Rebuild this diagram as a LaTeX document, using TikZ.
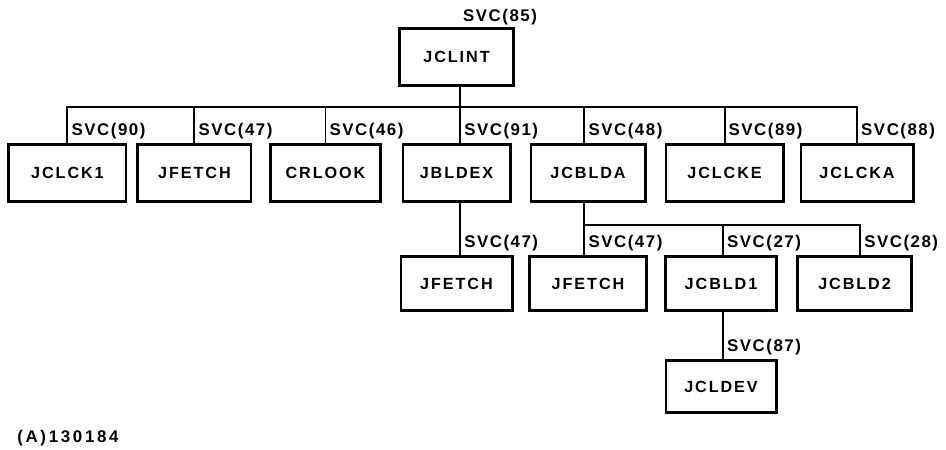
\documentclass[tikz,border=0pt]{standalone}
\usepackage{fontspec}
\setmainfont{Liberation Sans}[LetterSpace=9.0]
\usetikzlibrary{positioning}

\begin{document}
\begin{tikzpicture}
  \tikzstyle{block} = [rectangle, text centered, draw=black, line width=2pt, minimum height=1.43cm, font=\fontsize{11.5}{13}\selectfont\bfseries\addfontfeature{LetterSpace=12.0}]
  \tikzstyle{svc} = [anchor=base west, inner sep=0pt, xshift=0.08cm, yshift=0.2cm, font=\fontsize{12}{14}\selectfont\bfseries]
  \tikzstyle{link} = [line width=1.4pt]
  \useasboundingbox (0,0) rectangle (23.65,-11.225);
  % top
  \node (lint) [block, minimum width=2.855cm] at (11.4125,-1.425) {JCLINT};
  \node (svclint) [svc, xshift=0.08cm, yshift=-0.075cm] at (lint.north) {SVC(85)};
  % first row
  \node (bldex) [block, minimum width=2.68cm, below=1.4cm of lint] {JBLDEX};
  \node (crlook) [block, minimum width=2.73cm, left=0.5cm of bldex] {CRLOOK};
  \node (fetcha) [block, minimum width=2.83cm, left=0.425cm of crlook] {JFETCH};
  \node (lck1) [block, minimum width=2.93cm, left=0.225cm of fetcha] {JCLCK1};
  \node (cblda) [block, minimum width=2.855cm, right=0.45cm of bldex] {JCBLDA};
  \node (lcke) [block, minimum width=2.93cm, right=0.45cm of cblda] {JCLCKE};
  \node (lcka) [block, minimum width=2.805cm, right=0.375cm of lcke] {JCLCKA};
  % second row
  \node (fetchb) [block, minimum width=2.78cm, minimum height=1.355cm, below=1.3cm of bldex] {JFETCH};
  \node (fetchc) [block, minimum width=2.93cm, minimum height=1.355cm, below=1.3cm of cblda] {JFETCH};
  \node (cbld1) [block, minimum width=2.78cm, minimum height=1.355cm, right=0.4cm of fetchc] {JCBLD1};
  \node (cbld2) [block, minimum width=2.855cm, minimum height=1.355cm, right=0.45cm of cbld1] {JCBLD2};
  \node (cldev) [block, minimum width=2.755cm, minimum height=1.305cm, below=1.175cm of cbld1] {JCLDEV};
  % connectors
  \coordinate (bus) at ([xshift=0.09cm, yshift=-0.5cm]lint.south);
  \draw[link] (lint.south -| bus) -- (bus);
  \draw[link] (bus) -| (lck1.north) node[svc] {SVC(90)};
  \draw[link] (bus) -| (fetcha.north) node[svc] {SVC(47)};
  \draw[link] (bus) -| (crlook.north) node[svc] {SVC(46)};
  \draw[link] (bus) -- (bus |- bldex.north) node[svc] {SVC(91)};
  \draw[link] (bus) -| ([xshift=-0.09cm]cblda.north) node[svc] {SVC(48)};
  \draw[link] (bus) -| (lcke.north) node[svc] {SVC(89)};
  \draw[link] (bus) -| (lcka.north) node[svc] {SVC(88)};
  \draw[link] (bldex.south -| bus) -- (bus |- fetchb.north) node[svc] {SVC(47)};
  \coordinate (bus2) at ([xshift=-0.09cm, yshift=-0.55cm]cblda.south);
  \draw[link] (cblda.south -| bus2) -- (bus2 |- fetchc.north) node[svc] {SVC(47)};
  \draw[link] (bus2) -| ([xshift=0.05cm]cbld1.north) node[svc] {SVC(27)};
  \draw[link] (bus2) -| ([xshift=0.14cm]cbld2.north) node[svc] {SVC(28)};
  \draw[link] ([xshift=0.05cm]cbld1.south) -- ([xshift=0.05cm]cbld1.south |- cldev.north) node[svc] {SVC(87)};
  % figure tag
  \node (tag) [anchor=base west, inner sep=0pt, font=\fontsize{12}{14}\selectfont\bfseries\addfontfeature{LetterSpace=16.0}] at (0.425,-11.05) {(A)130184};
\end{tikzpicture}
\end{document}
